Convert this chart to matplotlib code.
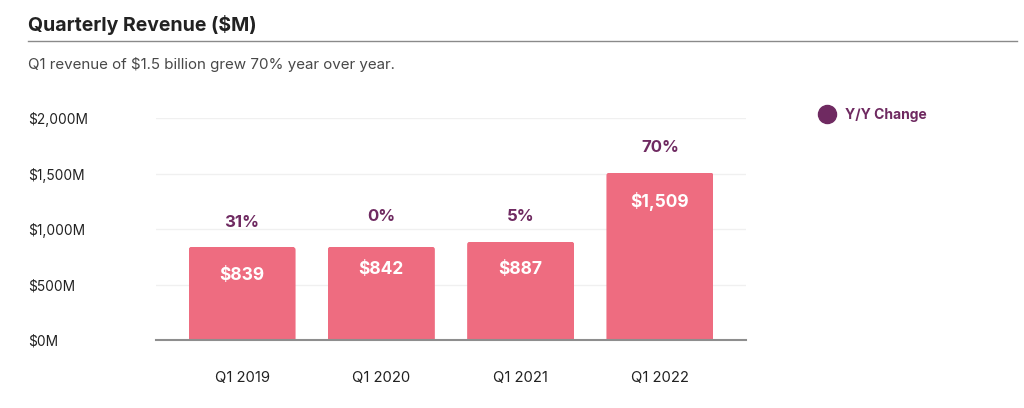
import matplotlib
matplotlib.use("Agg")
import matplotlib.pyplot as plt
from matplotlib.lines import Line2D
from matplotlib.patches import FancyBboxPatch
from matplotlib.transforms import IdentityTransform

# data
quarters = ["Q1 2019", "Q1 2020", "Q1 2021", "Q1 2022"]
revenue = [839, 842, 887, 1509]
revenue_labels = ["$839", "$842", "$887", "$1,509"]
yoy_labels = ["31%", "0%", "5%", "70%"]
y_ticks = [0, 500, 1000, 1500, 2000]
y_tick_labels = ["$0M", "$500M", "$1,000M", "$1,500M", "$2,000M"]

# label offsets from the bar top, in pixels
yoy_lift = [24.5, 30.5, 25.5, 25.5]
value_drop = [29, 23, 28, 29]

W, H = 1024, 408
PINK = "#ee6c80"
PURPLE = "#6f2a61"
plt.rcParams["font.family"] = ["Inter", "DejaVu Sans"]

def px(v):
    return v * 72 / 100

fig = plt.figure(figsize=(W / 100, H / 100), dpi=100, facecolor="white")
ax = fig.add_axes([156 / W, 1 - 340 / H, (746 - 156) / W, (340 - 118) / H])

bars = ax.bar(range(4), revenue, width=0.768, color=PINK, zorder=2)
ax.set_xlim(-0.618, 3.618)
ax.set_ylim(0, 2000)

ax.set_yticks(y_ticks)
ax.set_yticklabels(y_tick_labels, ha="left", fontsize=9.9, color="#222222")
ax.set_xticks(range(4))
ax.set_xticklabels(quarters, fontsize=10.7, color="#222222")
ax.tick_params(axis="y", length=0, pad=px(156 - 28))
ax.tick_params(axis="x", length=0, pad=px(31))
ax.grid(axis="y", color="#f0f0f0", linewidth=1)
ax.set_axisbelow(True)
for name in ["top", "left", "right"]:
    ax.spines[name].set_visible(False)
ax.spines["bottom"].set_color("#8e8e8e")
ax.spines["bottom"].set_linewidth(1.5)
ax.spines["bottom"].set_zorder(3)

# round the top corners of the bars
fig.canvas.draw()
for bar in bars:
    bb = bar.get_window_extent()
    clip = FancyBboxPatch((bb.x0 + 3, bb.y0 - 10), bb.width - 6, bb.height + 7,
                          boxstyle="round,pad=3,rounding_size=3",
                          transform=IdentityTransform())
    bar.set_clip_path(clip)

for i, val in enumerate(revenue):
    ax.annotate(yoy_labels[i], (i, val), xytext=(0, px(yoy_lift[i])),
                textcoords="offset points", ha="center", va="center",
                fontsize=12, fontweight="bold", color=PURPLE)
    ax.annotate(revenue_labels[i], (i, val), xytext=(0, -px(value_drop[i])),
                textcoords="offset points", ha="center", va="center",
                fontsize=12.5, fontweight="bold", color="white", zorder=4)

fig.text(28 / W, 1 - 25 / H, "Quarterly Revenue ($M)", fontsize=14,
         fontweight="bold", color="#222222", va="center")
fig.text(28 / W, 1 - 64 / H, "Q1 revenue of $1.5 billion grew 70% year over year.",
         fontsize=10.9, color="#484848", va="center")
fig.add_artist(Line2D([28 / W, 1017 / W], [1 - 40.5 / H, 1 - 40.5 / H],
                      color="#8a8a8a", linewidth=1))

handle = Line2D([], [], linestyle="none", marker="o", markersize=13,
                color=PURPLE, label="Y/Y Change")
fig.legend(handles=[handle], loc="center left", frameon=False,
           bbox_to_anchor=(813 / W, 1 - 115 / H), prop={"size": 10, "weight": "bold"},
           labelcolor=PURPLE, handletextpad=0.3, borderpad=0, borderaxespad=0)

fig.savefig("out.png", dpi=100)
